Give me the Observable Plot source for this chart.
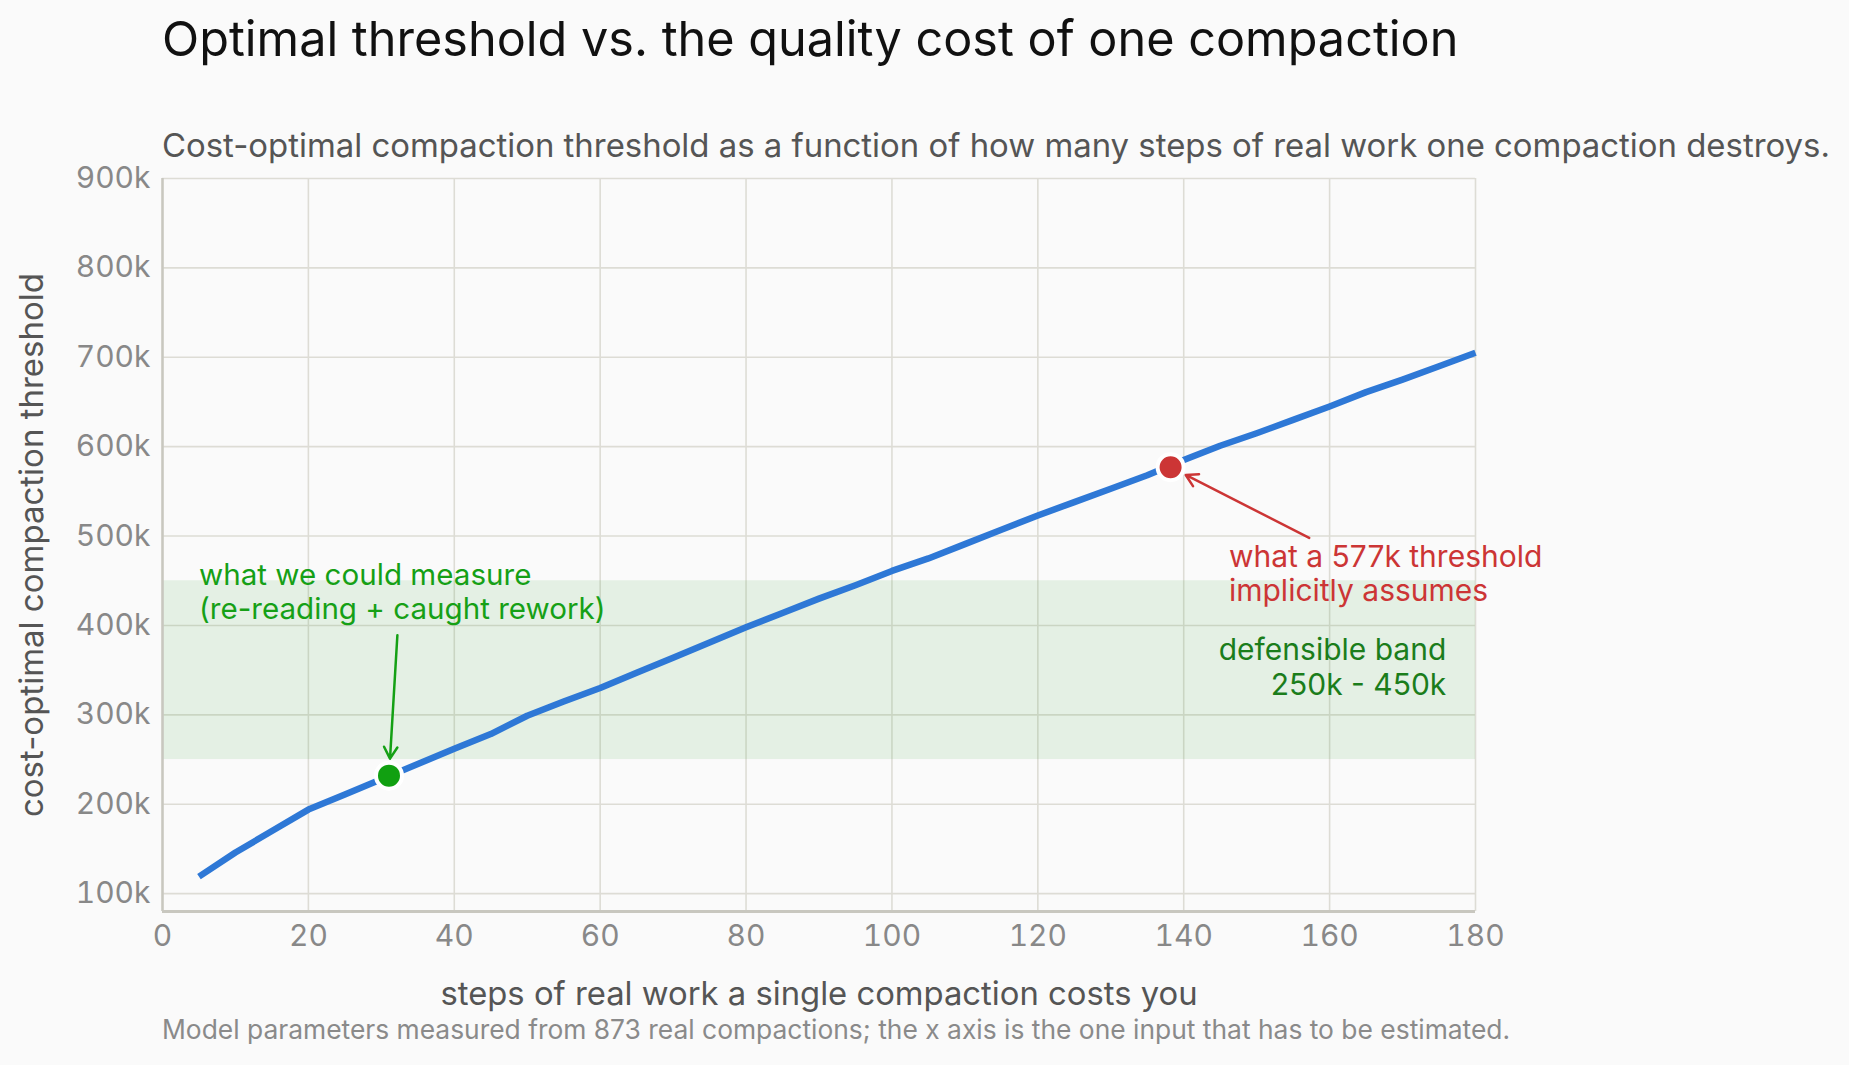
<!DOCTYPE html>
<html>
<head>
<meta charset="utf-8">
<script src="https://cdn.jsdelivr.net/npm/d3@7"></script>
<script src="https://cdn.jsdelivr.net/npm/@observablehq/plot@0.6"></script>
<style>
  html, body { margin: 0; padding: 0; background: #fafafa; }
  body { width: 1849px; height: 1065px; position: relative; overflow: hidden; font-family: Inter, "Liberation Sans", sans-serif; }
  .title { position: absolute; left: 162px; top: 15px; font-size: 48.6px; line-height: 1; color: #111; white-space: nowrap; }
  .subtitle { position: absolute; left: 162px; top: 129px; font-size: 32.9px; line-height: 1; color: #555; white-space: nowrap; }
  .caption { position: absolute; left: 162px; top: 1016px; font-size: 26.4px; line-height: 1; color: #8a8a8a; white-space: nowrap; }
  #chart { position: absolute; left: 0; top: 160px; }
</style>
</head>
<body>
<div class="title">Optimal threshold vs. the quality cost of one compaction</div>
<div class="subtitle">Cost-optimal compaction threshold as a function of how many steps of real work one compaction destroys.</div>
<div id="chart"></div>
<div class="caption">Model parameters measured from 873 real compactions; the x axis is the one input that has to be estimated.</div>
<script>
// ---- data ----
const stepsCost = [5, 10, 15, 20, 25, 30, 35, 40, 45, 50, 55, 60, 65, 70, 75, 80, 85, 90, 95, 100, 105, 110, 115, 120, 125, 130, 135, 140, 145, 150, 155, 160, 165, 170, 175, 180];
const optimalThreshold = [119000, 146000, 170000, 194000, 211000, 228000, 245000, 262000, 278500, 299000, 315000, 330000, 347000, 364000, 381000, 398000, 414000, 430000, 445000, 461000, 475000, 491000, 507000, 523000, 538000, 553000, 568000, 585000, 601000, 615000, 630000, 645000, 661000, 675000, 690000, 705000];

const xTicks = [0, 20, 40, 60, 80, 100, 120, 140, 160, 180];
const yTicks = [100000, 200000, 300000, 400000, 500000, 600000, 700000, 800000, 900000];
const xDomain = [0, 180];
const yDomain = [80000, 900000];

const bandLow = [250000];
const bandHigh = [450000];
const bandText = ["defensible band\n250k - 450k"];
const bandTextX = [176];
const bandTextY = [322400];

const measuredX = [31.05];
const measuredY = [232000];
const measuredText = ["what we could measure\n(re-reading + caught rework)"];
const measuredTextX = [5];
const measuredTextY = [406700];
const measuredArrowFrom = [[32.2, 389000]];

const impliedX = [138.2];
const impliedY = [577000];
const impliedText = ["what a 577k threshold\nimplicitly assumes"];
const impliedTextX = [146.2];
const impliedTextY = [427700];
const impliedArrowFrom = [[157.2, 498000]];

const xLabel = "steps of real work a single compaction costs you";
const yLabel = "cost-optimal compaction threshold";

// ---- build ----
const series = stepsCost.map((x, i) => ({x, y: optimalThreshold[i]}));
const band = bandLow.map((lo, i) => ({lo, hi: bandHigh[i]}));
const greenArrow = measuredArrowFrom.map(([x1, y1], i) => ({x1, y1, x2: measuredX[i], y2: measuredY[i]}));
const redArrow = impliedArrowFrom.map(([x1, y1], i) => ({x1, y1, x2: impliedX[i], y2: impliedY[i]}));

const font = "Inter, 'Liberation Sans', sans-serif";

const chart = Plot.plot({
  width: 1600,
  height: 861,
  marginTop: 18,
  marginLeft: 162,
  marginRight: 125,
  marginBottom: 110,
  style: {fontFamily: font, background: "transparent", color: "#888", overflow: "visible"},
  x: {domain: xDomain, ticks: xTicks},
  y: {domain: yDomain, ticks: yTicks},
  marks: [
    Plot.gridX(xTicks, {stroke: "#dddcd5", strokeOpacity: 1, strokeWidth: 1.6}),
    Plot.gridY(yTicks, {stroke: "#dddcd5", strokeOpacity: 1, strokeWidth: 1.6}),
    Plot.rectY(band, {x1: xDomain[0], x2: xDomain[1], y1: "lo", y2: "hi", fill: "#3aa33a", fillOpacity: 0.11}),
    Plot.ruleX([xDomain[0]], {stroke: "#c8c7bf", strokeWidth: 2.5}),
    Plot.ruleY([yDomain[0]], {stroke: "#c8c7bf", strokeWidth: 3}),
    Plot.axisX({ticks: xTicks, tickSize: 0, tickPadding: 13, fontSize: 30, fill: "#888", label: null}),
    Plot.axisY({ticks: yTicks, tickSize: 0, tickPadding: 12, fontSize: 30, fill: "#888", label: null, tickFormat: d => d / 1000 + "k"}),
    Plot.line(series, {x: "x", y: "y", stroke: "#2e78d6", strokeWidth: 6.5, strokeLinejoin: "round", strokeLinecap: "butt"}),
    Plot.arrow(greenArrow, {x1: "x1", y1: "y1", x2: "x2", y2: "y2", stroke: "#14a014", strokeWidth: 2.5, headLength: 8, insetEnd: 17}),
    Plot.arrow(redArrow, {x1: "x1", y1: "y1", x2: "x2", y2: "y2", stroke: "#cc3535", strokeWidth: 2.5, headLength: 8, insetEnd: 17}),
    Plot.dot(measuredX.map((x, i) => ({x, y: measuredY[i]})), {x: "x", y: "y", r: 13, fill: "#11a011", stroke: "#ffffff", strokeWidth: 4}),
    Plot.dot(impliedX.map((x, i) => ({x, y: impliedY[i]})), {x: "x", y: "y", r: 13, fill: "#cc3535", stroke: "#ffffff", strokeWidth: 4}),
    Plot.text(measuredText, {x: measuredTextX, y: measuredTextY, text: d => d, textAnchor: "start", lineAnchor: "bottom", lineHeight: 1.15, fontSize: 29.6, fill: "#16a016"}),
    Plot.text(impliedText, {x: impliedTextX, y: impliedTextY, text: d => d, textAnchor: "start", lineAnchor: "bottom", lineHeight: 1.12, fontSize: 30, fill: "#cc3535"}),
    Plot.text(bandText, {x: bandTextX, y: bandTextY, text: d => d, textAnchor: "end", lineAnchor: "bottom", lineHeight: 1.15, fontSize: 30, fill: "#1b7d1b"}),
    Plot.text([xLabel], {frameAnchor: "bottom", text: d => d, dy: 93, lineAnchor: "bottom", textAnchor: "middle", fontSize: 32.8, fill: "#555"}),
    Plot.text([yLabel], {frameAnchor: "left", text: d => d, dx: -130, rotate: -90, lineAnchor: "middle", textAnchor: "middle", fontSize: 33, fill: "#555"})
  ]
});
document.getElementById("chart").appendChild(chart);
</script>
</body>
</html>
